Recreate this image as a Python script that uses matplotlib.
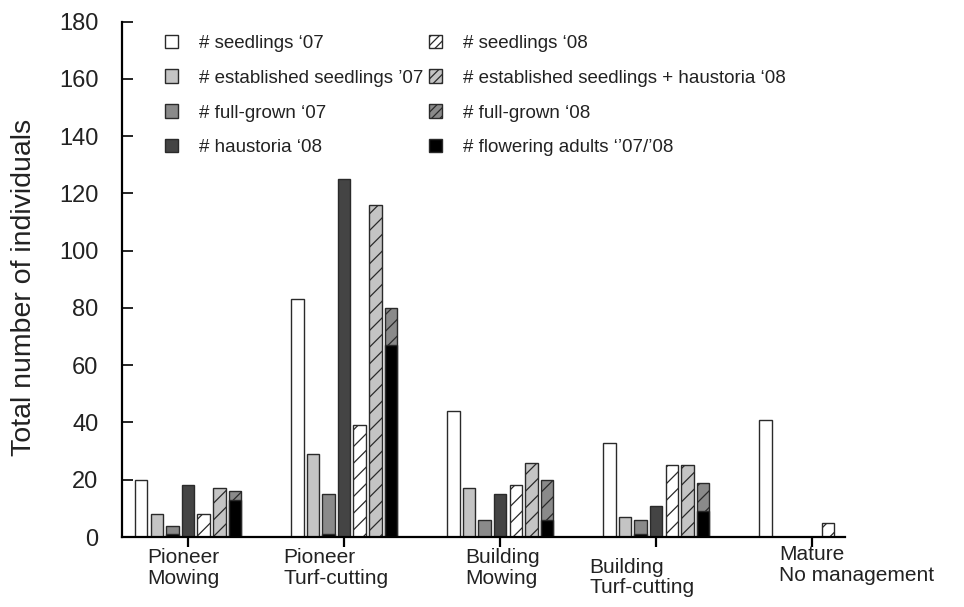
import matplotlib
matplotlib.use("Agg")
import matplotlib.pyplot as plt
from matplotlib.patches import Patch
import numpy as np

plt.rcParams['font.family'] = ['Liberation Sans', 'DejaVu Sans']
plt.rcParams['hatch.linewidth'] = 0.9

# Groups (habitat stage / management)
groups = ["Pioneer\nMowing", "Pioneer\nTurf-cutting", "Building\nMowing",
          "Building\nTurf-cutting", "Mature\nNo management"]

# Counts per group
seedlings_07 = [20, 83, 44, 33, 41]
established_07 = [8, 29, 17, 7, 0]
fullgrown_07 = [4, 15, 6, 6, 0]
flowering_07 = [1, 1, 0, 1, 0]
haustoria_08 = [18, 125, 15, 11, 0]
seedlings_08 = [8, 39, 18, 25, 5]
established_haustoria_08 = [17, 116, 26, 25, 0]
fullgrown_08 = [16, 80, 20, 19, 0]
flowering_08 = [13, 67, 6, 9, 0]

legend_labels = ["# seedlings \u201807", "# established seedlings \u201907",
                 "# full-grown \u201807", "# haustoria \u201808",
                 "# seedlings \u201808", "# established seedlings + haustoria \u201808",
                 "# full-grown \u201808", "# flowering adults \u2018\u201907/\u201908"]

WHITE, LIGHT, MID, DARK, BLACK = "#ffffff", "#c4c4c4", "#8a8a8a", "#444444", "#000000"
EDGE = "#2a2a2a"
TXT = "#222222"

fig = plt.figure(figsize=(9.64, 6.07), dpi=100)
ax = fig.add_axes([0.1266, 0.1153, 0.75, 0.849])

centers = np.arange(len(groups)) * 10.0
w = 0.8


def draw(offset, values, color, hatch=None):
    vals = np.asarray(values, dtype=float)
    keep = vals > 0
    ax.bar(centers[keep] + offset, vals[keep], width=w, color=color,
           edgecolor=EDGE, linewidth=1.0, hatch=hatch, zorder=2)


draw(-3, seedlings_07, WHITE)
draw(-2, established_07, LIGHT)
draw(-1, fullgrown_07, MID)
draw(-1, flowering_07, BLACK)
draw(0, haustoria_08, DARK)
draw(1, seedlings_08, WHITE, "//")
draw(2, established_haustoria_08, LIGHT, "//")
draw(3, fullgrown_08, MID, "//")
draw(3, flowering_08, BLACK)

ax.set_xlim(-4.23, 42.1)
ax.set_ylim(0, 180)
ax.set_yticks(np.arange(0, 181, 20))
ax.set_xticks(centers)
ax.set_xticklabels([""] * len(groups))
for side in ("top", "right"):
    ax.spines[side].set_visible(False)
for side in ("left", "bottom"):
    ax.spines[side].set_linewidth(1.6)
ax.tick_params(axis="y", direction="in", length=8, width=1.2, labelsize=17, pad=17,
               labelcolor=TXT)
ax.tick_params(axis="x", direction="out", length=7, width=1.6)
ax.set_ylabel("Total number of individuals", fontsize=20.5, color=TXT)
ax.yaxis.set_label_coords(-0.118, 0.485)

# group names under the axis, left aligned
label_dx = [-2.6, -3.9, -2.25, -4.3, -2.1]
label_dy = [-0.022, -0.022, -0.022, -0.04, -0.015]
for c, name, dx, dy in zip(centers, groups, label_dx, label_dy):
    ax.text(c + dx, dy, name, transform=ax.get_xaxis_transform(), ha="left", va="top",
            fontsize=15, color=TXT, linespacing=1.12)

handles = [Patch(facecolor=WHITE, edgecolor=EDGE), Patch(facecolor=LIGHT, edgecolor=EDGE),
           Patch(facecolor=MID, edgecolor=EDGE), Patch(facecolor=DARK, edgecolor=EDGE),
           Patch(facecolor=WHITE, edgecolor=EDGE, hatch="////"),
           Patch(facecolor=LIGHT, edgecolor=EDGE, hatch="////"),
           Patch(facecolor=MID, edgecolor=EDGE, hatch="////"),
           Patch(facecolor=BLACK, edgecolor=EDGE)]
ax.legend(handles, legend_labels, ncol=2, frameon=False, loc="upper left",
          bbox_to_anchor=(0.059, 0.975), fontsize=13.5, handlelength=0.7,
          handleheight=0.7, handletextpad=1.12, labelspacing=0.95, columnspacing=0.3,
          borderpad=0, borderaxespad=0, labelcolor=TXT)

fig.savefig("out.png", dpi=100)
